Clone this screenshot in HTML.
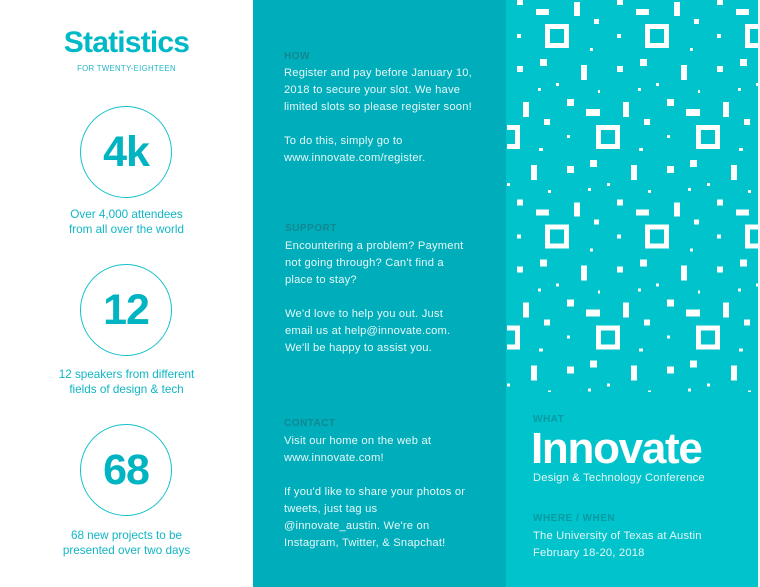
<!DOCTYPE html>
<html><head><meta charset="utf-8"><style>
*{margin:0;padding:0;box-sizing:border-box}
body{width:760px;height:587px;overflow:hidden;background:#fff;font-family:"Liberation Sans",sans-serif;position:relative}
.a{position:absolute}
.left{left:0;top:0;width:253px;height:587px;background:#fff}
.mid{left:253px;top:0;width:253px;height:587px;background:#00aebb}
.right{left:506px;top:0;width:252px;height:587px;background:#00c3cb}
.edge{left:758px;top:0;width:2px;height:587px;background:#e8f8f9}
.circ{width:92px;height:92px;border:1.3px solid #14c0cb;border-radius:50%;left:80px;color:#00b4c2;font-weight:bold;font-size:43px;text-align:center;line-height:90px;letter-spacing:-1px}
.cap{left:0;width:253px;text-align:center;color:#12b6c4;font-size:11.7px;line-height:15px}
.h{font-size:10px;font-weight:bold;color:#118792;letter-spacing:.5px}
.t{color:#e6f8f9;font-size:11.2px;line-height:17px;letter-spacing:.2px}
</style></head><body>
<div class="a left"></div>
<div class="a mid"></div>
<div class="a right"></div>
<div class="a edge"></div>

<div class="a" style="left:0;width:253px;top:26px;text-align:center;color:#00b9c6;font-weight:bold;font-size:30px;letter-spacing:-0.8px">Statistics</div>
<div class="a" style="left:0;width:253px;top:64px;text-align:center;color:#22b8c6;font-size:7.8px;letter-spacing:.3px">FOR TWENTY-EIGHTEEN</div>

<div class="a circ" style="top:106px">4k</div>
<div class="a cap" style="top:207px">Over 4,000 attendees<br>from all over the world</div>
<div class="a circ" style="top:264px">12</div>
<div class="a cap" style="top:367px">12 speakers from different<br>fields of design &amp; tech</div>
<div class="a circ" style="top:424px">68</div>
<div class="a cap" style="top:528px">68 new projects to be<br>presented over two days</div>

<div class="a h" style="left:284px;top:51px">HOW</div>
<div class="a t" style="left:284px;top:65px">Register and pay before January 10,<br>2018 to secure your slot. We have<br>limited slots so please register soon!<br><br>To do this, simply go to<br>www.innovate.com/register.</div>
<div class="a h" style="left:285px;top:223px">SUPPORT</div>
<div class="a t" style="left:285px;top:238px">Encountering a problem? Payment<br>not going through? Can't find a<br>place to stay?<br><br>We'd love to help you out. Just<br>email us at help@innovate.com.<br>We'll be happy to assist you.</div>
<div class="a h" style="left:284px;top:418px">CONTACT</div>
<div class="a t" style="left:284px;top:433px">Visit our home on the web at<br>www.innovate.com!<br><br>If you'd like to share your photos or<br>tweets, just tag us<br>@innovate_austin. We're on<br>Instagram, Twitter, &amp; Snapchat!</div>

<svg class="a" style="left:0;top:0" width="760" height="587">
<defs>
<pattern id="p" patternUnits="userSpaceOnUse" x="0" y="0" width="100" height="200.5">
<g fill="#fff">
<rect x="17" y="-1" width="6" height="6"/><rect x="17" y="199.5" width="6" height="6"/>
<rect x="36" y="9" width="13" height="6"/>
<rect x="74" y="2" width="6" height="14"/>
<rect x="94" y="19" width="5" height="5"/>
<rect x="17" y="34" width="4" height="4"/>
<rect x="90" y="48" width="3" height="3"/>
<rect x="40" y="59" width="7" height="7"/>
<rect x="17" y="66" width="6" height="6"/>
<rect x="81" y="65" width="6" height="15"/>
<rect x="38" y="88" width="3" height="3"/><rect x="56" y="83" width="3" height="3"/><rect x="98" y="90" width="3" height="3"/>
<rect x="23" y="102" width="6" height="15"/>
<rect x="67" y="99" width="7" height="7"/>
<rect x="86" y="109" width="14" height="7"/>
<rect x="44" y="119" width="6" height="6"/>
<rect x="67" y="135" width="3" height="3"/>
<rect x="39" y="148" width="4" height="3"/>
<rect x="90" y="160" width="7" height="7"/>
<rect x="31" y="165" width="6" height="15"/>
<rect x="67" y="166" width="7" height="7"/>
<rect x="7" y="183" width="3" height="3"/>
<rect x="48" y="190" width="3" height="3"/>
<rect x="88" y="188" width="3" height="3"/>
</g>
<g fill="none" stroke="#fff" stroke-width="5">
<rect x="47.5" y="26.5" width="19" height="19"/>
<rect x="98.5" y="127.5" width="19" height="19"/>
<rect x="-1.5" y="127.5" width="19" height="19"/>
</g>
</pattern>
</defs>
<rect x="507" y="0" width="251" height="392" fill="url(#p)"/>
</svg>

<div class="a" style="left:533px;top:414px;font-size:10px;font-weight:bold;color:#0a9aa3;letter-spacing:.5px">WHAT</div>
<div class="a" style="left:531px;top:425px;font-size:44px;font-weight:bold;color:#fff;letter-spacing:-1.3px;line-height:48px">Innovate</div>
<div class="a" style="left:533px;top:472px;font-size:11.2px;color:#e6f8f9;letter-spacing:.2px">Design &amp; Technology Conference</div>
<div class="a" style="left:533px;top:513px;font-size:10px;font-weight:bold;color:#0a9aa3;letter-spacing:.5px">WHERE / WHEN</div>
<div class="a" style="left:533px;top:528px;font-size:11.2px;line-height:17px;color:#e6f8f9;letter-spacing:.2px">The University of Texas at Austin<br>February 18-20, 2018</div>
</body></html>
